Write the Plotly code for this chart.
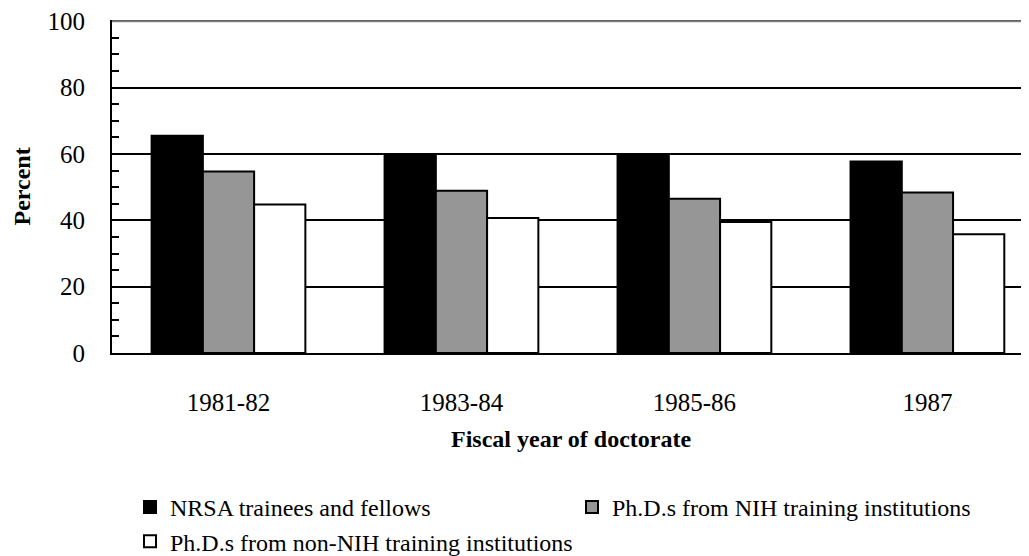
import plotly.graph_objects as go

categories = ["1981-82", "1983-84", "1985-86", "1987"]
nrsa = [65.5, 59.4, 60.0, 57.7]
nih = [54.7, 48.9, 46.5, 48.4]
non_nih = [44.8, 40.7, 39.5, 35.8]
series_names = ["NRSA trainees and fellows",
                "Ph.D.s from NIH training institutions",
                "Ph.D.s from non-NIH training institutions"]
y_ticks = [0, 20, 40, 60, 80, 100]

FONT = '"Liberation Serif", "Times New Roman", Times, serif'
colors = ["#000000", "#969696", "#ffffff"]

fig = go.Figure()
for name, vals, col in zip(series_names, [nrsa, nih, non_nih], colors):
    fig.add_trace(go.Bar(x=categories, y=vals, name=name,
                         marker=dict(color=col, line=dict(color="black", width=2))))

fig.update_layout(
    width=1021, height=548,
    margin=dict(l=104, r=0, t=12, b=203, autoexpand=False),
    paper_bgcolor="white", plot_bgcolor="white",
    barmode="group", bargap=0.34, bargroupgap=0,
    font=dict(family=FONT, size=24, color="black"),
    showlegend=True,
    legend=dict(orientation="h", xref="container", yref="paper",
                x=0.1195, xanchor="left", y=-0.6336, yanchor="bottom",
                entrywidth=397, entrywidthmode="pixels",
                font=dict(family=FONT, size=24, color="black"),
                traceorder="normal", itemclick=False, bgcolor="rgba(0,0,0,0)"),
    xaxis=dict(range=[-0.5, 3.436], showline=True, linecolor="black", linewidth=2,
               ticks="", showgrid=False, zeroline=False, automargin=False,
               tickfont=dict(family=FONT, size=25), ticklabelstandoff=26),
    yaxis=dict(range=[0, 100.4], tickvals=y_ticks, showline=True, linecolor="black", linewidth=2,
               ticks="inside", ticklen=7, tickwidth=2, tickcolor="black", automargin=False,
               ticklabeloverflow="allow",
               minor=dict(dtick=5, ticks="inside", ticklen=7, tickwidth=2, tickcolor="black", showgrid=False),
               showgrid=True, gridcolor="black", gridwidth=2, zeroline=False,
               tickfont=dict(family=FONT, size=25), ticklabelstandoff=20),
    annotations=[
        dict(text="<b>Percent</b>", xref="paper", yref="paper", x=0, y=0.5,
             xanchor="center", yanchor="middle",
             xshift=-91, textangle=-90, showarrow=False,
             font=dict(family=FONT, size=24)),
        dict(text="<b>Fiscal year of doctorate</b>", xref="paper", yref="paper", x=0.5, y=0,
             xanchor="center", yshift=-86, yanchor="middle", showarrow=False,
             font=dict(family=FONT, size=24)),
    ],
    shapes=[dict(type="line", xref="paper", yref="y", x0=0, x1=1, y0=100, y1=100,
                 line=dict(color="#808080", width=2))],
)

fig.write_html("out.html")
